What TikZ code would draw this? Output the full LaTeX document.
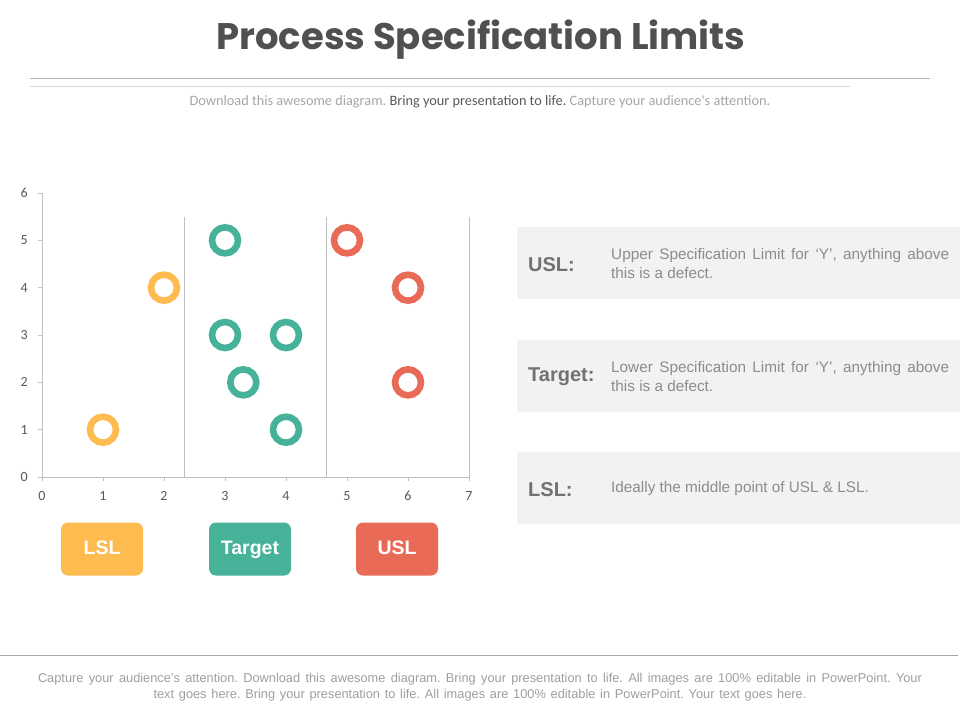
\documentclass[tikz,border=0pt]{standalone}
\usepackage{fontspec}
\setmainfont{Liberation Sans}
\newfontfamily\titlefont{Poppins}
\newfontfamily\calfont{Carlito}
\definecolor{ylw}{HTML}{FDBB50}
\definecolor{tealc}{HTML}{46B29A}
\definecolor{redc}{HTML}{E96A57}
\definecolor{panel}{HTML}{F2F2F2}
\definecolor{axisc}{HTML}{BFBFBF}
\definecolor{labc}{HTML}{595959}
\frenchspacing
\begin{document}
\begin{tikzpicture}[x=1pt,y=-1pt,
  ring/.style={circle,draw=#1,line width=6.6pt,minimum size=26pt,inner sep=0pt,fill=white},
  legbox/.style={fill=#1,rounded corners=7pt,minimum width=82pt,minimum height=53pt,inner sep=0pt,text=white,text height=14pt,text depth=4pt,font=\fontsize{19.5}{22}\selectfont\bfseries},
  panelbox/.style={fill=panel,draw=none,minimum width=443pt,minimum height=72pt,inner sep=0pt,anchor=west},
  plabel/.style={anchor=west,inner sep=0pt,text=labc!85!white,font=\fontsize{20}{23}\selectfont\bfseries},
  pdesc/.style={anchor=west,text=gray!90,text width=338pt,align=justify,inner sep=0pt,font=\fontsize{15.3}{19}\selectfont},
  ticklab/.style={text=labc,font=\calfont\fontsize{14}{16}\selectfont,inner sep=0pt},
  foot/.style={text=gray!75,font=\fontsize{12.8}{15}\selectfont,inner sep=0pt}]
\useasboundingbox (0,0) rectangle (960,720);
\fill[white] (0,0) rectangle (960,720);
% title
\node[text=labc!90!black,font=\titlefont\fontsize{37}{41}\selectfont\bfseries] (title) at (481,40) {Process Specification Limits};
\draw[axisc!80!gray,line width=0.8pt] (30,78) coordinate (h1a) -- (930,78) coordinate (h1b);
\draw[axisc!60!white,line width=0.8pt] (30,86) coordinate (h2a) -- (850,86) coordinate (h2b);
\node[font=\calfont\fontsize{14.3}{16}\selectfont,text=gray!70] (sub) at (480,102) {Download this awesome diagram. \textcolor{labc}{Bring your presentation to life.} Capture your audience's attention.};
% chart
\begin{scope}[shift={(42,477)},x=61pt,y=47.33pt]
  \draw[axisc,line width=0.9pt] (0,6) coordinate (ytop) -- (0,0) coordinate (org) -- (7,0) coordinate (xend);
  \foreach \i in {0,...,6} {\draw[axisc,line width=0.8pt] (0,\i) -- ++(-4pt,0); \node[ticklab,anchor=east] (yl\i) at ([xshift=-14pt]0,\i) {\i};}
  \foreach \i in {0,...,7} {\draw[axisc,line width=0.8pt] (\i,0) -- ++(0,-4pt); \node[ticklab,anchor=north] (xl\i) at ([yshift=-14pt]\i,0) {\i};}
  \draw[axisc,line width=0.9pt] (2.33,5.5) coordinate (v1t) -- (2.33,0) coordinate (v1b);
  \draw[axisc,line width=0.9pt] (4.67,5.5) coordinate (v2t) -- (4.67,0) coordinate (v2b);
  \draw[axisc,line width=0.9pt] (7,5.5) coordinate (v3t) -- (7,0) coordinate (v3b);
  \node[ring=ylw] (y1) at (1,1) {};
  \node[ring=ylw] (y2) at (2,4) {};
  \node[ring=tealc] (t1) at (3,5) {};
  \node[ring=tealc] (t2) at (3,3) {};
  \node[ring=tealc] (t3) at (4,3) {};
  \node[ring=tealc] (t4) at (3.3,2) {};
  \node[ring=tealc] (t5) at (4,1) {};
  \node[ring=redc] (r1) at (5,5) {};
  \node[ring=redc] (r2) at (6,4) {};
  \node[ring=redc] (r3) at (6,2) {};
\end{scope}
% legend boxes
\node[legbox=ylw] (lsl) at (102,549) {LSL};
\node[legbox=tealc] (tgt) at (250,549) {Target};
\node[legbox=redc] (usl) at (397,549) {USL};
% panels
\node[panelbox] (pa) at (517,263) {};
\node[panelbox] (pb) at (517,376) {};
\node[panelbox] (pc) at (517,488) {};
\node[plabel] (la) at (528,265) {USL:};
\node[plabel] (lb) at (528,377) {Target:};
\node[plabel] (lc) at (528,490) {LSL:};
\node[pdesc] (da) at (611,264) {Upper Specification Limit for `Y', anything above\linebreak this is a defect.};
\node[pdesc] (db) at (611,377) {Lower Specification Limit for `Y', anything above\linebreak this is a defect.};
\node[pdesc] (dc) at (611,489) {Ideally the middle point of USL \& LSL.};
% footer
\draw[gray!70,line width=0.8pt] (0,655) coordinate (fa) -- (958,655) coordinate (fb);
\node[foot] (f1) at (480,679) {\makebox[884pt][s]{Capture your audience's attention. Download this awesome diagram. Bring your presentation to life. All images are 100\% editable in PowerPoint. Your}};
\node[foot] (f2) at (480,695) {\makebox[653pt][s]{text goes here. Bring your presentation to life. All images are 100\% editable in PowerPoint. Your text goes here.}};
\end{tikzpicture}
\end{document}
